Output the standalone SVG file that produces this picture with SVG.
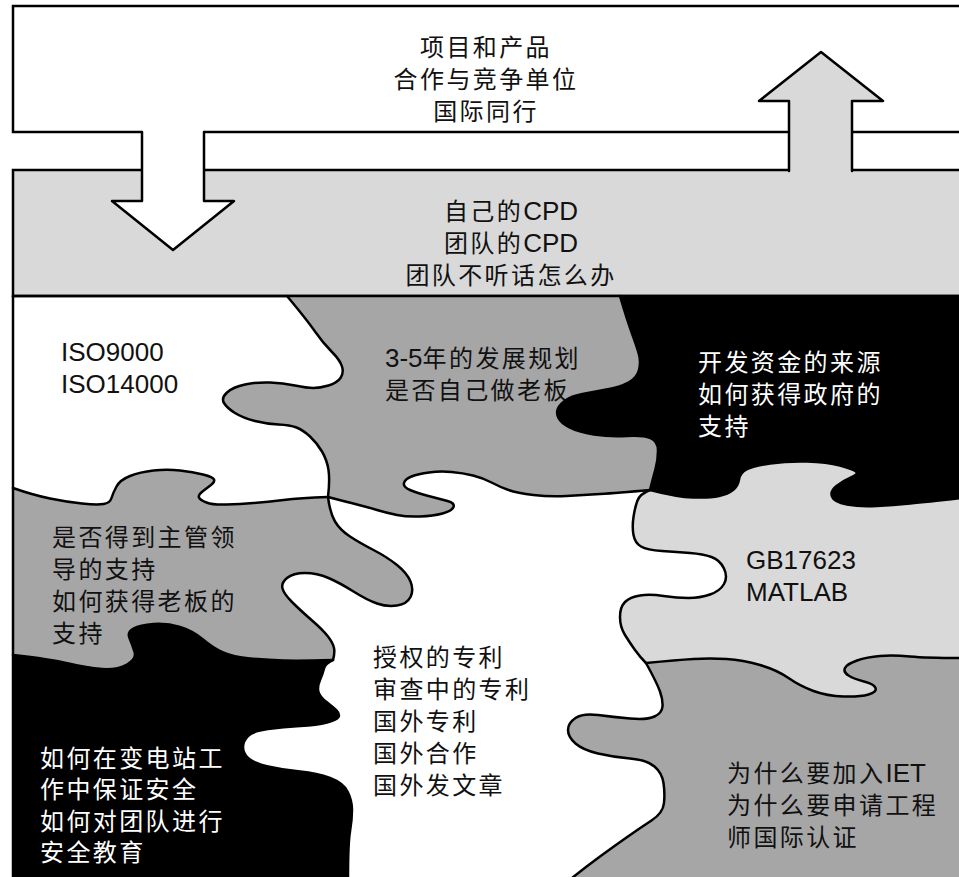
<svg xmlns="http://www.w3.org/2000/svg" width="959" height="877" viewBox="0 0 959 877">
  <style>
    .frame { stroke: #000; stroke-width: 2.5; }
    .seam { fill: none; stroke: #000; stroke-width: 2.5; stroke-linejoin: round; stroke-linecap: round; }
    .t { font-family: "Liberation Sans", "Noto Sans CJK SC", sans-serif; font-size: 24px; letter-spacing: 2.4px; fill: #111; }
    .lat { font-size: 26px; letter-spacing: 0; }
    .w { fill: #fff; }
    .mid { text-anchor: middle; }
    .g1 { fill: #a6a6a6; }
    .g2 { fill: #d9d9d9; }
    .blk { fill: #000; }
  </style>

  <rect x="0" y="0" width="959" height="877" fill="#fff"/>

  <!-- upper banner: environment -->
  <g id="banner-environment">
    <rect class="frame" x="13" y="6" width="960" height="126" fill="#fff"/>
    <text class="t mid" x="486" y="56">项目和产品</text>
    <text class="t mid" x="486" y="88">合作与竞争单位</text>
    <text class="t mid" x="486" y="120">国际同行</text>
  </g>

  <!-- lower banner: CPD -->
  <g id="banner-cpd">
    <rect class="frame" x="13" y="170" width="960" height="126" fill="#d9d9d9"/>
    <text class="t mid" x="511" y="220">自己的<tspan class="lat">CPD</tspan></text>
    <text class="t mid" x="511" y="252">团队的<tspan class="lat">CPD</tspan></text>
    <text class="t mid" x="511" y="284">团队不听话怎么办</text>
  </g>

  <!-- block arrows between the banners -->
  <g id="connectors">
    <g id="arrow-down">
      <polygon points="142,130 142,201 112,201 173,250 234,201 204,201 204,130" fill="#fff"/>
      <polyline class="seam" points="142,132 142,201 112,201 173,250 234,201 204,201 204,132"/>
    </g>
    <g id="arrow-up">
      <polygon points="789,172 789,101 759,101 821,52 883,101 852,101 852,172" fill="#d9d9d9"/>
      <polyline class="seam" points="789,171 789,101 759,101 821,52 883,101 852,101 852,171"/>
    </g>
  </g>

  <!-- jigsaw pieces (fills) -->
  <g id="piece-iso">
    <text class="t lat" x="61" y="361">ISO9000</text>
    <text class="t lat" x="61" y="393">ISO14000</text>
  </g>

  <g id="piece-certification">
    <path class="g1" d="M646,663 Q657,683 660,691.5 Q663,700 662.5,706.5 Q662,713 654.5,716.5 Q647,720 630,718.5 Q613,717 598,715 Q583,713 575.5,718 Q568,723 568,730 Q568,737 575.5,743.5 Q583,750 598,753.5 Q613,757 630,758.5 Q647,760 654.5,766.5 Q662,773 663.5,783 Q665,793 664,803 Q663,813 651.5,820.5 Q640,828 626.5,837.5 Q613,847 600,856.5 Q587,866 572,878 L962,878 L962,620 L670,620 Z"/>
    <text class="t" x="727" y="782">为什么要加入<tspan class="lat">IET</tspan></text>
    <text class="t" x="727" y="814">为什么要申请工程</text>
    <text class="t" x="727" y="846">师国际认证</text>
  </g>

  <g id="piece-standards">
    <path class="g2" d="M650,490 Q640,494 637.5,500.5 Q635,507 633.5,517 Q632,527 633.5,535 Q635,543 641,546.5 Q647,550 662,551 Q677,552 690,553 Q703,554 711.5,557 Q720,560 724,568.5 Q728,577 724,584 Q720,591 710,594.5 Q700,598 688.5,598 Q677,598 663.5,596 Q650,594 640,595.5 Q630,597 625,602 Q620,607 620,617 Q620,627 625,635 Q630,643 635,650 Q640,657 646,663 Q677,660 693.5,659 Q710,658 726.5,659 Q743,660 760,665 Q777,670 788.5,678 Q800,686 813.5,691 Q827,696 843.5,696.5 Q860,697 868.5,694.5 Q877,692 875.5,688 Q874,684 864,681.5 Q854,679 848.5,675.5 Q843,672 845,668 Q847,664 857,660.5 Q867,657 880,656 Q893,655 910,656.5 Q927,658 962,658 L962,296 L650,296 Z"/>
    <text class="t lat" x="746" y="569">GB17623</text>
    <text class="t lat" x="746" y="601">MATLAB</text>
  </g>

  <g id="piece-plan">
    <path class="g1" d="M287,296 Q307,320 315,331.5 Q323,343 331.5,351.5 Q340,360 342,366.5 Q344,373 340.5,378 Q337,383 328.5,385.5 Q320,388 313.5,388 Q307,388 295,385.5 Q283,383 270,382.5 Q257,382 245,384.5 Q233,387 227,392.5 Q221,398 224,403 Q227,408 235,413 Q243,418 255,421 Q267,424 278.5,424.5 Q290,425 296.5,427.5 Q303,430 310,436.5 Q317,443 322,451.5 Q327,460 328.5,470 Q330,480 328,497 Q347,502 357,504.5 Q367,507 377,510 Q387,513 397,515 Q407,517 420,516.5 Q433,516 442.5,513.5 Q452,511 453.5,507 Q455,503 447.5,501 Q440,499 428.5,496 Q417,493 410,490 Q403,487 404,483 Q405,479 411.5,476.5 Q418,474 429,472.5 Q440,471 451.5,472 Q463,473 473,475.5 Q483,478 491.5,482.5 Q500,487 508.5,490 Q517,493 533.5,495 Q550,497 566.5,496 Q583,495 600,494 Q617,493 650,490 Q677,497 693.5,497.5 Q710,498 719,496 Q728,494 733,490 Q738,486 739,479.5 Q740,473 746.5,469.5 Q753,466 770,463.5 Q787,461 807,461.5 Q827,462 840,465.5 Q853,469 856,471.5 Q859,474 851,477.5 Q843,481 836.5,486 Q830,491 832,496.5 Q834,502 847,504.5 Q860,507 876.5,506 Q893,505 910,503.5 Q927,502 962,498 L962,296 Z"/>
    <text class="t" x="385" y="367"><tspan class="lat">3-5</tspan>年的发展规划</text>
    <text class="t" x="385" y="399">是否自己做老板</text>
  </g>

  <g id="piece-funding">
    <path class="blk" d="M620,296 Q627,320 632,333.5 Q637,347 639,354.5 Q641,362 639,370 Q637,378 628.5,382.5 Q620,387 606.5,389.5 Q593,392 582.5,394 Q572,396 566,400 Q560,404 558,408.5 Q556,413 558.5,418 Q561,423 569.5,427.5 Q578,432 594,434.5 Q610,437 626.5,436 Q643,435 650.5,438 Q658,441 658,450.5 Q658,460 655.5,469 Q653,478 650,490 Q677,497 693.5,497.5 Q710,498 719,496 Q728,494 733,490 Q738,486 739,479.5 Q740,473 746.5,469.5 Q753,466 770,463.5 Q787,461 807,461.5 Q827,462 840,465.5 Q853,469 856,471.5 Q859,474 851,477.5 Q843,481 836.5,486 Q830,491 832,496.5 Q834,502 847,504.5 Q860,507 876.5,506 Q893,505 910,503.5 Q927,502 962,498 L962,296 Z"/>
    <text class="t w" x="698" y="371">开发资金的来源</text>
    <text class="t w" x="698" y="403">如何获得政府的</text>
    <text class="t w" x="698" y="435">支持</text>
  </g>

  <g id="piece-support">
    <path class="g1" d="M13,488 Q33,495 50,498.5 Q67,502 82,503.5 Q97,505 103.5,504 Q110,503 111.5,498 Q113,493 116.5,486.5 Q120,480 130,476 Q140,472 153.5,470.5 Q167,469 180,470.5 Q193,472 203,474.5 Q213,477 214,479.5 Q215,482 211,485 Q207,488 202.5,491.5 Q198,495 199,497.5 Q200,500 206.5,502.5 Q213,505 226.5,504.5 Q240,504 253.5,503 Q267,502 283.5,500 Q300,498 328,497 Q330,513 335,521.5 Q340,530 350,536.5 Q360,543 373.5,550 Q387,557 397,565 Q407,573 410.5,581.5 Q414,590 410.5,597 Q407,604 397,605.5 Q387,607 377,603.5 Q367,600 353.5,591.5 Q340,583 328.5,578 Q317,573 305,573 Q293,573 287,578 Q281,583 282.5,588.5 Q284,594 292,602 Q300,610 311.5,620 Q323,630 328,636.5 Q333,643 334,648 Q335,653 333,660 Q300,661 283.5,660.5 Q267,660 250,658.5 Q233,657 223,652.5 Q213,648 203,639.5 Q193,631 180,627 Q167,623 153.5,624 Q140,625 133.5,628.5 Q127,632 129.5,638 Q132,644 134.5,651.5 Q137,659 127,664.5 Q117,670 102,669 Q87,668 68.5,663.5 Q50,659 13,655 Z"/>
    <text class="t" x="52" y="546">是否得到主管领</text>
    <text class="t" x="52" y="578">导的支持</text>
    <text class="t" x="52" y="610">如何获得老板的</text>
    <text class="t" x="52" y="642">支持</text>
  </g>

  <g id="piece-safety">
    <path class="blk" d="M13,655 Q50,659 68.5,663.5 Q87,668 102,669 Q117,670 127,664.5 Q137,659 134.5,651.5 Q132,644 129.5,638 Q127,632 133.5,628.5 Q140,625 153.5,624 Q167,623 180,627 Q193,631 203,639.5 Q213,648 223,652.5 Q233,657 250,658.5 Q267,660 283.5,660.5 Q300,661 333,660 Q325,664 324,668.5 Q323,673 320,680 Q317,687 318.5,692 Q320,697 326.5,702 Q333,707 336.5,710.5 Q340,714 338.5,717 Q337,720 327,722.5 Q317,725 300,726 Q283,727 268,729 Q253,731 248,736 Q243,741 243,747 Q243,753 248,758 Q253,763 268,766.5 Q283,770 300,771.5 Q317,773 330,778 Q343,783 347.5,791.5 Q352,800 352,810 Q352,820 350,831.5 Q348,843 348,879 L13,879 Z"/>
    <text class="t w" x="40" y="767">如何在变电站工</text>
    <text class="t w" x="40" y="798">作中保证安全</text>
    <text class="t w" x="40" y="830">如何对团队进行</text>
    <text class="t w" x="40" y="861">安全教育</text>
  </g>

  <g id="piece-patents">
    <text class="t" x="373" y="666">授权的专利</text>
    <text class="t" x="373" y="698">审查中的专利</text>
    <text class="t" x="373" y="730">国外专利</text>
    <text class="t" x="373" y="762">国外合作</text>
    <text class="t" x="373" y="794">国外发文章</text>
  </g>

  <!-- seams between the pieces -->
  <g id="seams">
    <line class="seam" x1="13" y1="296" x2="962" y2="296"/>
    <line class="seam" x1="13" y1="296" x2="13" y2="879"/>
    <path class="seam" d="M287,296 Q307,320 315,331.5 Q323,343 331.5,351.5 Q340,360 342,366.5 Q344,373 340.5,378 Q337,383 328.5,385.5 Q320,388 313.5,388 Q307,388 295,385.5 Q283,383 270,382.5 Q257,382 245,384.5 Q233,387 227,392.5 Q221,398 224,403 Q227,408 235,413 Q243,418 255,421 Q267,424 278.5,424.5 Q290,425 296.5,427.5 Q303,430 310,436.5 Q317,443 322,451.5 Q327,460 328.5,470 Q330,480 328,497"/>
    <path class="seam" d="M13,488 Q33,495 50,498.5 Q67,502 82,503.5 Q97,505 103.5,504 Q110,503 111.5,498 Q113,493 116.5,486.5 Q120,480 130,476 Q140,472 153.5,470.5 Q167,469 180,470.5 Q193,472 203,474.5 Q213,477 214,479.5 Q215,482 211,485 Q207,488 202.5,491.5 Q198,495 199,497.5 Q200,500 206.5,502.5 Q213,505 226.5,504.5 Q240,504 253.5,503 Q267,502 283.5,500 Q300,498 328,497"/>
    <path class="seam" d="M328,497 Q347,502 357,504.5 Q367,507 377,510 Q387,513 397,515 Q407,517 420,516.5 Q433,516 442.5,513.5 Q452,511 453.5,507 Q455,503 447.5,501 Q440,499 428.5,496 Q417,493 410,490 Q403,487 404,483 Q405,479 411.5,476.5 Q418,474 429,472.5 Q440,471 451.5,472 Q463,473 473,475.5 Q483,478 491.5,482.5 Q500,487 508.5,490 Q517,493 533.5,495 Q550,497 566.5,496 Q583,495 600,494 Q617,493 650,490"/>
    <path class="seam" d="M620,296 Q627,320 632,333.5 Q637,347 639,354.5 Q641,362 639,370 Q637,378 628.5,382.5 Q620,387 606.5,389.5 Q593,392 582.5,394 Q572,396 566,400 Q560,404 558,408.5 Q556,413 558.5,418 Q561,423 569.5,427.5 Q578,432 594,434.5 Q610,437 626.5,436 Q643,435 650.5,438 Q658,441 658,450.5 Q658,460 655.5,469 Q653,478 650,490"/>
    <path class="seam" d="M650,490 Q677,497 693.5,497.5 Q710,498 719,496 Q728,494 733,490 Q738,486 739,479.5 Q740,473 746.5,469.5 Q753,466 770,463.5 Q787,461 807,461.5 Q827,462 840,465.5 Q853,469 856,471.5 Q859,474 851,477.5 Q843,481 836.5,486 Q830,491 832,496.5 Q834,502 847,504.5 Q860,507 876.5,506 Q893,505 910,503.5 Q927,502 962,498"/>
    <path class="seam" d="M650,490 Q640,494 637.5,500.5 Q635,507 633.5,517 Q632,527 633.5,535 Q635,543 641,546.5 Q647,550 662,551 Q677,552 690,553 Q703,554 711.5,557 Q720,560 724,568.5 Q728,577 724,584 Q720,591 710,594.5 Q700,598 688.5,598 Q677,598 663.5,596 Q650,594 640,595.5 Q630,597 625,602 Q620,607 620,617 Q620,627 625,635 Q630,643 635,650 Q640,657 646,663"/>
    <path class="seam" d="M646,663 Q677,660 693.5,659 Q710,658 726.5,659 Q743,660 760,665 Q777,670 788.5,678 Q800,686 813.5,691 Q827,696 843.5,696.5 Q860,697 868.5,694.5 Q877,692 875.5,688 Q874,684 864,681.5 Q854,679 848.5,675.5 Q843,672 845,668 Q847,664 857,660.5 Q867,657 880,656 Q893,655 910,656.5 Q927,658 962,658"/>
    <path class="seam" d="M646,663 Q657,683 660,691.5 Q663,700 662.5,706.5 Q662,713 654.5,716.5 Q647,720 630,718.5 Q613,717 598,715 Q583,713 575.5,718 Q568,723 568,730 Q568,737 575.5,743.5 Q583,750 598,753.5 Q613,757 630,758.5 Q647,760 654.5,766.5 Q662,773 663.5,783 Q665,793 664,803 Q663,813 651.5,820.5 Q640,828 626.5,837.5 Q613,847 600,856.5 Q587,866 572,878"/>
    <path class="seam" d="M328,497 Q330,513 335,521.5 Q340,530 350,536.5 Q360,543 373.5,550 Q387,557 397,565 Q407,573 410.5,581.5 Q414,590 410.5,597 Q407,604 397,605.5 Q387,607 377,603.5 Q367,600 353.5,591.5 Q340,583 328.5,578 Q317,573 305,573 Q293,573 287,578 Q281,583 282.5,588.5 Q284,594 292,602 Q300,610 311.5,620 Q323,630 328,636.5 Q333,643 334,648 Q335,653 333,660"/>
    <path class="seam" d="M333,660 Q300,661 283.5,660.5 Q267,660 250,658.5 Q233,657 223,652.5 Q213,648 203,639.5 Q193,631 180,627 Q167,623 153.5,624 Q140,625 133.5,628.5 Q127,632 129.5,638 Q132,644 134.5,651.5 Q137,659 127,664.5 Q117,670 102,669 Q87,668 68.5,663.5 Q50,659 13,655"/>
    <path class="seam" d="M333,660 Q325,664 324,668.5 Q323,673 320,680 Q317,687 318.5,692 Q320,697 326.5,702 Q333,707 336.5,710.5 Q340,714 338.5,717 Q337,720 327,722.5 Q317,725 300,726 Q283,727 268,729 Q253,731 248,736 Q243,741 243,747 Q243,753 248,758 Q253,763 268,766.5 Q283,770 300,771.5 Q317,773 330,778 Q343,783 347.5,791.5 Q352,800 352,810 Q352,820 350,831.5 Q348,843 348,879"/>
  </g>
</svg>
